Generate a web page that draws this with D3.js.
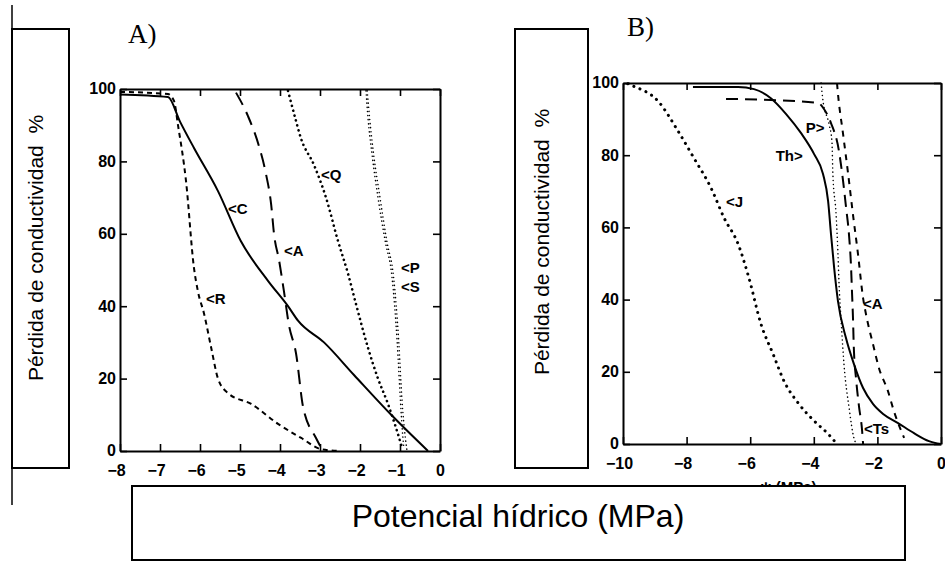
<!DOCTYPE html>
<html><head><meta charset="utf-8">
<script src="https://cdn.jsdelivr.net/npm/d3@7"></script>
<style>
html,body{margin:0;padding:0;background:#fff;}
svg{display:block;}
</style></head>
<body>
<script>
// ---------- data ----------
const yTicks = [0, 20, 40, 60, 80, 100];
const xTicksA = [-8, -7, -6, -5, -4, -3, -2, -1, 0];
const xTicksB = [-10, -8, -6, -4, -2, 0];

// Panel A curves [water potential MPa, % loss of conductivity]
const curveA_C = [[-8,98.5],[-6.8,97.8],[-6.5,91],[-6.15,83.7],[-5.55,71.8],[-4.98,58],[-4.3,47],[-3.8,40],[-3.55,36],[-2.9,30],[-2.15,21],[-1.22,10],[-0.3,0]];
const curveA_R = [[-8,99.2],[-6.8,98.6],[-6.65,96.7],[-6.55,90],[-6.35,74.6],[-6.15,50.5],[-6.05,44],[-5.9,38],[-5.72,28.5],[-5.55,20],[-5.3,16],[-4.72,13],[-4.05,7.5],[-3.47,3.6],[-2.97,0.5],[-2.5,0]];
const curveA_A = [[-5.1,99],[-4.8,92.5],[-4.52,84],[-4.35,76.5],[-4.22,68],[-4.15,60],[-4.02,52.5],[-3.9,44],[-3.78,35],[-3.6,27],[-3.42,12],[-3.1,3.6],[-2.95,0.5]];
const curveA_Q = [[-3.8,99.5],[-3.62,92],[-3.48,86.5],[-3.15,79],[-2.85,70],[-2.55,58],[-2.3,49],[-2.1,40.6],[-1.8,28.5],[-1.55,20],[-1.3,13],[-1.1,6.4],[-0.95,1]];
const curveA_P = [[-1.85,99.5],[-1.8,92],[-1.7,82],[-1.55,70],[-1.37,58],[-1.2,48],[-1.07,30],[-0.99,14],[-0.93,4],[-0.9,0.5]];
const curveA_S = [[-1.82,99.5],[-1.76,92],[-1.66,82],[-1.5,70],[-1.33,58],[-1.16,48],[-1.03,30],[-0.95,14],[-0.87,4],[-0.83,0.5]];

// Panel B curves
const curveB_J = [[-9.85,99.8],[-9.69,99.2],[-8.9,95],[-8.27,86.7],[-7.77,79.2],[-7.23,70.9],[-6.82,62.6],[-6.38,55.4],[-6.04,46],[-5.66,33.2],[-5.28,24.9],[-4.94,17.5],[-4.47,11.1],[-3.99,6.4],[-3.55,2.8],[-3.3,0.3]];
const curveB_Th = [[-7.8,98.9],[-6.38,98.9],[-5.88,98.3],[-5.35,95.8],[-4.87,91.4],[-4.4,86.1],[-3.99,80.3],[-3.71,74.8],[-3.55,67.3],[-3.46,58.2],[-3.36,48.8],[-3.24,39.6],[-2.99,29.4],[-2.74,22.2],[-2.45,15.5],[-2.14,11.1],[-1.82,8.3],[-1.35,5.8],[-0.85,3.0],[-0.38,0.8],[0,0]];
const curveB_Ts = [[-6.76,95.6],[-5.35,95.3],[-3.87,94.5],[-3.68,92.8],[-3.46,88.9],[-3.21,81.2],[-3.08,72.9],[-2.99,65.9],[-2.89,57.6],[-2.83,49.3],[-2.8,42.4],[-2.77,35.5],[-2.74,26.3],[-2.67,18],[-2.58,10.5],[-2.48,3.6],[-2.45,0]];
const curveB_P = [[-3.77,100],[-3.71,95],[-3.52,88.6],[-3.43,83.9],[-3.4,74.8],[-3.3,63.7],[-3.24,52.6],[-3.21,45.2],[-3.14,34],[-3.05,22],[-2.89,10],[-2.74,1.7],[-2.66,0]];
const curveB_A = [[-3.27,100],[-3.24,97],[-3.08,85.9],[-2.92,74.8],[-2.77,63.7],[-2.61,52.6],[-2.45,40.4],[-2.36,36],[-2.14,27.7],[-1.95,21],[-1.67,14.7],[-1.48,9.1],[-1.16,1.7]];

// curve labels (anchored in data coordinates)
const labelsA = [["<Q",-2.975,74.9],["<C",-5.3,65.5],["<A",-3.9,53.9],["<P",-0.975,49.2],["<S",-0.975,43.9],["<R",-5.85,40.6]];
const labelsB = [["<J",-6.76,65.7],["Th>",-5.2,78.4],["P>",-4.25,86.1],["<A",-2.45,37.4],["<Ts",-2.42,2.8]];

const yTitle = "Pérdida de conductividad  %";
const xTitle = "Potencial hídrico (MPa)";
const xTitleB = "ψ (MPa)";

// ---------- drawing ----------
const W = 945, H = 561;
const svg = d3.select("body").append("svg").attr("width", W).attr("height", H);
svg.append("rect").attr("width", W).attr("height", H).attr("fill", "#fff");

const tickFont = "'Liberation Sans', Arial, Helvetica, sans-serif";
const fmt = d3.format("d");

const styles = {
  solid:     {w: 2,   dash: null, cap: "butt"},
  shortDash: {w: 2,   dash: "5,4", cap: "butt"},
  longDash:  {w: 2,   dash: "14,8", cap: "butt"},
  bigDot:    {w: 2.6, dash: "0.1,5", cap: "round"},
  fineDot:   {w: 1.5, dash: "0.1,4", cap: "round"},
  medDash:   {w: 2,   dash: "6,6", cap: "butt"},
  bTs:       {w: 2,   dash: "12,7", cap: "butt"},
  bJ:        {w: 3,   dash: "0.1,6.5", cap: "round"}
};

function boldText(sel, size) {
  sel.style("font-family", tickFont).style("font-weight", "bold")
     .style("font-size", size + "px").attr("fill", "#000");
}

function panel(cfg) {
  const g = svg.append("g");
  const x = d3.scaleLinear().domain(cfg.xDomain).range(cfg.xRange);
  const y = d3.scaleLinear().domain([0, 100]).range(cfg.yRange);
  const [x0, x1] = cfg.xRange, [y0, y1] = [cfg.yRange[1], cfg.yRange[0]];

  const ax = [
    d3.axisBottom(x).tickValues(cfg.xTicks).tickSize(-7).tickSizeOuter(0).tickFormat(fmt),
    d3.axisTop(x).tickValues(cfg.xTicks).tickSize(-7).tickSizeOuter(0).tickFormat(""),
    d3.axisLeft(y).tickValues(yTicks).tickSize(-7).tickSizeOuter(0).tickFormat(fmt),
    d3.axisRight(y).tickValues(yTicks).tickSize(-7).tickSizeOuter(0).tickFormat("")
  ];
  const tr = [`translate(0,${y1})`, `translate(0,${y0})`, `translate(${x0},0)`, `translate(${x1},0)`];
  ax.forEach((a, i) => {
    const ga = g.append("g").attr("transform", tr[i]).call(a);
    ga.select(".domain").attr("stroke", "#000").attr("stroke-width", 2);
    ga.selectAll(".tick line").attr("stroke", "#000").attr("stroke-width", 1.6);
    boldText(ga.selectAll(".tick text"), 16);
    if (i === 0) ga.selectAll(".tick text").attr("y", 14).attr("dy", "0.71em")
        .attr("x", d => d < 0 ? -4 : 0);
    if (i === 2) ga.selectAll(".tick text").attr("x", -4).attr("dy", "0.3em");
  });

  const line = d3.line().x(d => x(d[0])).y(d => y(d[1])).curve(d3.curveMonotoneX);
  cfg.curves.forEach(([data, st]) => {
    const s = styles[st];
    g.append("path").attr("d", line(data)).attr("fill", "none").attr("stroke", "#000")
      .attr("stroke-width", s.w).attr("stroke-dasharray", s.dash).attr("stroke-linecap", s.cap)
      .attr("stroke-linejoin", "round");
  });

  const labs = g.selectAll("text.lab").data(cfg.labels).join("text").attr("class", "lab")
    .attr("x", d => x(d[1])).attr("y", d => y(d[2])).text(d => d[0]);
  boldText(labs, 15);

  svg.append("text").attr("x", cfg.letterPos[0]).attr("y", cfg.letterPos[1])
    .style("font-family", "'Liberation Serif','Times New Roman',serif").style("font-size", "27px")
    .attr("fill", "#000").text(cfg.letter);
  return {x, y};
}

panel({
  xDomain: [-8, 0], xRange: [120, 440], yRange: [451, 89], xTicks: xTicksA,
  curves: [[curveA_R, "shortDash"], [curveA_A, "longDash"], [curveA_Q, "bigDot"],
           [curveA_P, "fineDot"], [curveA_S, "fineDot"], [curveA_C, "solid"]],
  labels: labelsA, letter: "A)", letterPos: [128, 43]
});

const pb = panel({
  xDomain: [-10, 0], xRange: [623, 941], yRange: [444, 83], xTicks: xTicksB,
  curves: [[curveB_J, "bJ"], [curveB_Ts, "bTs"], [curveB_P, "fineDot"],
           [curveB_A, "medDash"], [curveB_Th, "solid"]],
  labels: labelsB, letter: "B)", letterPos: [627, 36]
});

// original (partially hidden) x label of panel B
const tb = svg.append("text").attr("x", pb.x(-4.8)).attr("y", 492).attr("text-anchor", "middle").text(xTitleB);
boldText(tb, 15);

// vertical rule at far left
svg.append("line").attr("x1", 12).attr("x2", 12).attr("y1", 5).attr("y2", 505)
  .attr("stroke", "#000").attr("stroke-width", 1.5);

// overlay title boxes
const boxFont = "'Liberation Sans', Arial, Helvetica, sans-serif";
function vbox(x0, x1, tx, ty) {
  svg.append("rect").attr("x", x0).attr("y", 29).attr("width", x1 - x0).attr("height", 439)
    .attr("fill", "#fff").attr("stroke", "#000").attr("stroke-width", 2);
  svg.append("text").attr("transform", `translate(${tx},${ty}) rotate(-90)`)
    .attr("text-anchor", "middle").style("font-family", boxFont).style("font-size", "21px")
    .style("white-space", "pre").attr("fill", "#000").text(yTitle);
}
vbox(12, 69, 43, 248);
vbox(515, 588, 549, 242);

svg.append("rect").attr("x", 132).attr("y", 486).attr("width", 773).attr("height", 74)
  .attr("fill", "#fff").attr("stroke", "#000").attr("stroke-width", 2);
svg.append("text").attr("x", 518).attr("y", 527).attr("text-anchor", "middle")
  .style("font-family", boxFont).style("font-size", "32px").attr("fill", "#000").text(xTitle);
</script>
</body></html>
